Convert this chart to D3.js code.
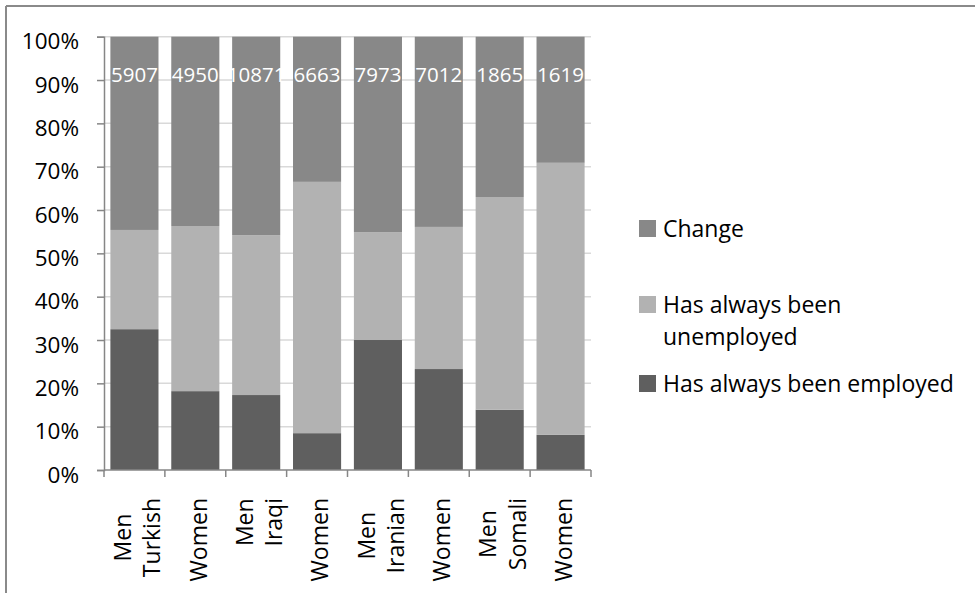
<!DOCTYPE html>
<html>
<head>
<meta charset="utf-8">
<script src="https://cdn.jsdelivr.net/npm/d3@7"></script>
<style>
  body { margin: 0; background: #fff; }
  text { font-family: "Open Sans", sans-serif; }
</style>
</head>
<body>
<svg width="975" height="593"></svg>
<script>
// Chart values (percent of each group).
var groups = ["Men Turkish", "Women Turkish", "Men Iraqi", "Women Iraqi",
              "Men Iranian", "Women Iranian", "Men Somali", "Women Somali"];
var tickLabels = [["Men", "Turkish"], ["Women"], ["Men", "Iraqi"], ["Women"],
                  ["Men", "Iranian"], ["Women"], ["Men", "Somali"], ["Women"]];
var employed   = [32.5, 18.2, 17.3, 8.5, 30.0, 23.3, 13.9, 8.1];
var unemployed = [22.9, 38.1, 36.9, 58.0, 24.9, 32.8, 49.1, 62.8];
var change     = [44.6, 43.7, 45.8, 33.5, 45.1, 43.9, 37.0, 29.1];
var counts     = [5907, 4950, 10871, 6663, 7973, 7012, 1865, 1619];
var seriesNames = ["Has always been employed", "Has always been unemployed", "Change"];

var svg = d3.select("svg"),
    margin = {top: 36.7, left: 104},
    width = 487,
    height = 433.3;

var color = d3.scaleOrdinal()
    .domain(seriesNames)
    .range(["#5f5f5f", "#b2b2b2", "#888888"]);

// outer frame (only top and left edges show)
svg.append("line").attr("x1", 6).attr("y1", 6).attr("x2", 975).attr("y2", 6)
    .attr("stroke", "#8a8a8a").attr("stroke-width", 2);
svg.append("line").attr("x1", 6).attr("y1", 6).attr("x2", 6).attr("y2", 593)
    .attr("stroke", "#8a8a8a").attr("stroke-width", 2);

var g = svg.append("g")
    .attr("transform", "translate(" + margin.left + "," + margin.top + ")");

var x = d3.scaleBand()
    .domain(d3.range(groups.length))
    .range([0, width])
    .paddingInner(0.21)
    .paddingOuter(0.105);

var y = d3.scaleLinear()
    .domain([0, 1])
    .range([height, 0]);

var rows = groups.map(function(name, i) {
  return {
    i: i,
    "Has always been employed": employed[i],
    "Has always been unemployed": unemployed[i],
    "Change": change[i]
  };
});

var stack = d3.stack().keys(seriesNames).offset(d3.stackOffsetExpand);

// gridlines
g.append("g")
    .selectAll("line")
    .data(y.ticks(10).slice(1))
    .enter().append("line")
    .attr("x1", 0)
    .attr("x2", width)
    .attr("y1", function(d) { return y(d); })
    .attr("y2", function(d) { return y(d); })
    .attr("stroke", "#d9d9d9")
    .attr("stroke-width", 1.5);

// stacked bars
g.append("g")
    .selectAll("g")
    .data(stack(rows))
    .enter().append("g")
    .attr("fill", function(d) { return color(d.key); })
    .selectAll("rect")
    .data(function(d) { return d; })
    .enter().append("rect")
    .attr("x", function(d) { return x(d.data.i); })
    .attr("y", function(d) { return y(d[1]); })
    .attr("height", function(d) { return y(d[0]) - y(d[1]); })
    .attr("width", x.bandwidth());

// case counts, white text near the top of each bar
g.append("g")
    .selectAll("text")
    .data(counts)
    .enter().append("text")
    .attr("x", function(d, i) { return x(i) + x.bandwidth() / 2; })
    .attr("y", y(0.9) + 1.7)
    .attr("text-anchor", "middle")
    .attr("fill", "#fff")
    .style("font-size", "20.5px")
    .text(function(d) { return d; });

// y axis
var yAxis = g.append("g")
    .call(d3.axisLeft(y).ticks(10, "%").tickSize(7).tickPadding(18));
yAxis.selectAll("text")
    .attr("dy", "12")
    .attr("fill", "#000")
    .style("font-size", "22.5px");

// x axis: ticks sit on band edges
var xAxis = g.append("g").attr("transform", "translate(0," + height + ")");
xAxis.append("line").attr("x1", 0).attr("x2", width);
xAxis.selectAll(".tick")
    .data(d3.range(groups.length + 1))
    .enter().append("line")
    .attr("class", "tick")
    .attr("x1", function(d) { return d * width / groups.length; })
    .attr("x2", function(d) { return d * width / groups.length; })
    .attr("y1", 0)
    .attr("y2", 7);
xAxis.selectAll("line").attr("stroke", "#868686").attr("stroke-width", 1.5);
yAxis.selectAll("path, line").attr("stroke", "#868686").attr("stroke-width", 1.5);

var labels = xAxis.selectAll("text")
    .data(tickLabels)
    .enter().append("text")
    .style("font-size", "23px")
    .attr("transform", function(d, i) {
      return "translate(" + (x(i) + x.bandwidth() / 2 + 11.3) + ",28) rotate(-90)";
    });
labels.selectAll("tspan")
    .data(function(d) { return d.map(function(t, k) { return {t: t, k: k, n: d.length}; }); })
    .enter().append("tspan")
    .attr("x", 0)
    .attr("y", function(d) { return (d.k - (d.n - 1) / 2) * 29.3; })
    .text(function(d) { return d.t; });
// each block is right-aligned at the top, lines centred within it
labels.each(function() {
  var spans = d3.select(this).selectAll("tspan");
  var widest = d3.max(spans.nodes(), function(n) { return n.getComputedTextLength(); });
  spans.attr("x", function() { return -(widest + this.getComputedTextLength()) / 2; });
});

// legend
var legendItems = [
  {key: "Change", lines: ["Change"], y: 237},
  {key: "Has always been unemployed", lines: ["Has always been", "unemployed"], y: 313},
  {key: "Has always been employed", lines: ["Has always been employed"], y: 392}
];
var legend = svg.append("g").selectAll("g")
    .data(legendItems)
    .enter().append("g")
    .attr("transform", function(d) { return "translate(639," + d.y + ")"; });
legend.append("rect")
    .attr("y", -17)
    .attr("width", 17)
    .attr("height", 17)
    .attr("fill", function(d) { return color(d.key); });
legend.append("text")
    .style("font-size", "23px")
    .selectAll("tspan")
    .data(function(d) { return d.lines; })
    .enter().append("tspan")
    .attr("x", 24)
    .attr("y", function(d, k) { return k * 32; })
    .text(function(d) { return d; });
</script>
</body>
</html>
